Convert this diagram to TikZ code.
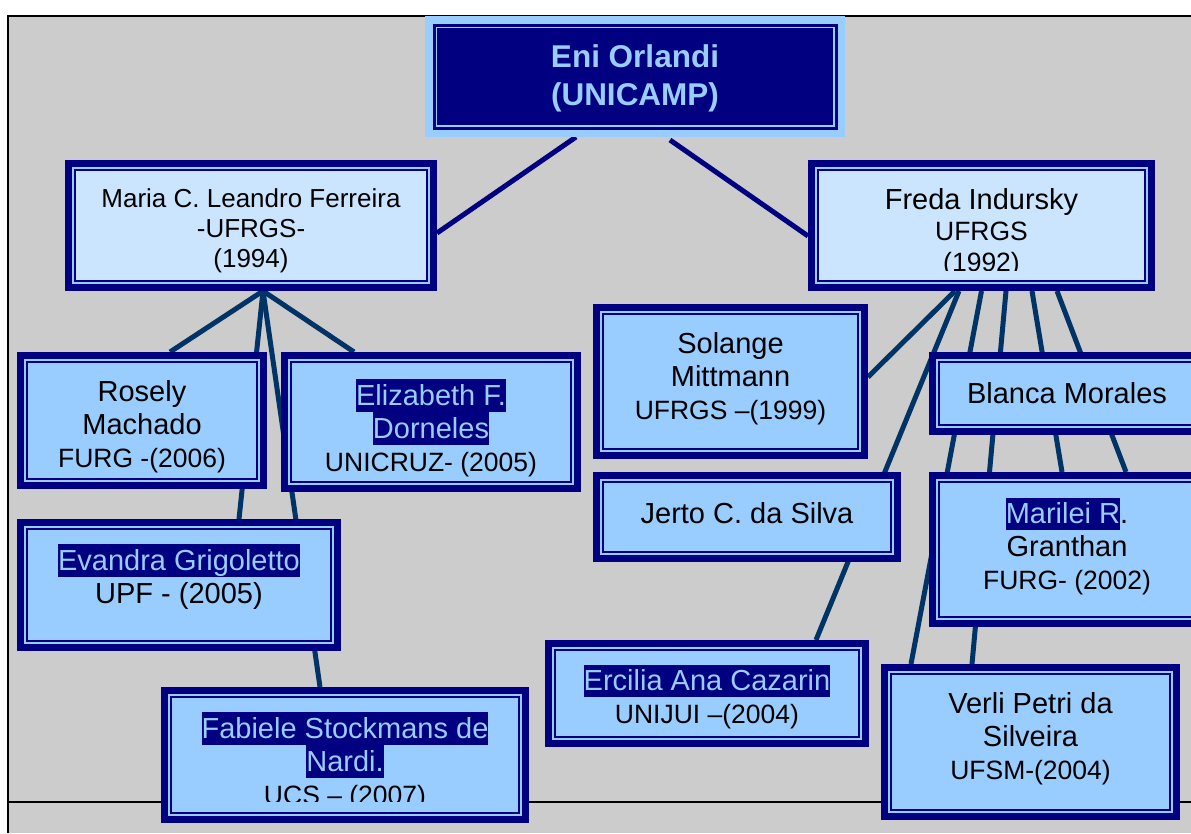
\documentclass[tikz,border=0pt]{standalone}
\usepackage{fontspec}
\setmainfont{Liberation Sans}
\usetikzlibrary{backgrounds}
\definecolor{orlnavy}{HTML}{000080}
\definecolor{orlblue}{HTML}{99CCFF}
\definecolor{orlpale}{HTML}{CCE5FF}
\definecolor{orlgray}{HTML}{CCCCCC}
\definecolor{orlline}{HTML}{003366}
\newcommand{\marca}[1]{{\fboxsep=0pt\colorbox{orlnavy}{\color{orlblue}\rule[-0.22em]{0pt}{1.12em}#1}}}
\newcommand{\inst}[1]{{\fontsize{26.5}{33}\selectfont #1}}
\begin{document}
\begin{tikzpicture}[x=1pt,y=-1pt,
    kid/.style={draw=orlnavy, line width=7pt, fill=orlblue, inner sep=0pt,
      path picture={\draw[orlnavy, line width=2pt]
        ([shift={(6.5pt,-6.5pt)}]path picture bounding box.north west) rectangle
        ([shift={(-6.5pt,6.5pt)}]path picture bounding box.south east);}},
    parent/.style={draw=orlnavy, line width=7pt, fill=orlblue, inner sep=0pt,
      path picture={\filldraw[fill=orlpale, draw=orlnavy, line width=2pt]
        ([shift={(6.5pt,-6.5pt)}]path picture bounding box.north west) rectangle
        ([shift={(-6.5pt,6.5pt)}]path picture bounding box.south east);}},
    topbox/.style={draw=orlblue, line width=7.5pt, fill=orlnavy, inner sep=0pt,
      path picture={\draw[orlblue, line width=1.5pt]
        ([shift={(7.5pt,-7.5pt)}]path picture bounding box.north west) rectangle
        ([shift={(-7.5pt,7.5pt)}]path picture bounding box.south east);}},
    txt/.style={align=center, inner sep=0pt, font=\fontsize{29}{33}\selectfont},
    link/.style={draw=orlline, line width=5pt},
    toplink/.style={draw=orlnavy, line width=5pt}]
  \useasboundingbox (0,0) rectangle (1191,833);
  \clip (0,0) rectangle (1191,833);

  \node[topbox, minimum width=412.5pt, minimum height=113.5pt] (eni) at (635,76.5) {};
  \node[parent, minimum width=365pt, minimum height=124pt] (maria) at (251,225.5) {};
  \node[parent, minimum width=340pt, minimum height=124pt] (freda) at (981.5,225.5) {};
  \node[kid, minimum width=243pt, minimum height=130pt] (rosely) at (142,420.5) {};
  \node[kid, minimum width=293pt, minimum height=133pt] (elizabeth) at (431,422) {};
  \node[kid, minimum width=317pt, minimum height=125pt] (evandra) at (179,585) {};
  \node[kid, minimum width=361pt, minimum height=129pt] (fabiele) at (345,755) {};
  \node[kid, minimum width=268pt, minimum height=148pt] (solange) at (730.5,381.5) {};
  \node[kid, minimum width=301pt, minimum height=83pt] (jerto) at (747,517) {};
  \node[kid, minimum width=317pt, minimum height=100pt] (ercilia) at (707,693.5) {};
  \node[kid, minimum width=269pt, minimum height=76pt] (blanca) at (1067,393.5) {};
  \node[kid, minimum width=269pt, minimum height=148pt] (marilei) at (1067,549.5) {};
  \node[kid, minimum width=292pt, minimum height=149pt] (verli) at (1030.5,742) {};

  \node[txt, text=orlblue, font=\bfseries\fontsize{31.5}{38}\selectfont] (enitx) at (635,78) {Eni Orlandi\\(UNICAMP)};
  \node[txt, font=\fontsize{26}{30}\selectfont] (mariatx) at (251,231) {Maria C. Leandro Ferreira\\-UFRGS-\\(1994)};
  \begin{scope}
    \clip (808,160) rectangle (1155,270);
    \node[txt, font=\fontsize{29}{31}\selectfont] (fredatx) at (981.5,233) {Freda Indursky\\\inst{UFRGS}\\\inst{(1992)}};
  \end{scope}
  \node[txt] (roselytx) at (142,427) {Rosely\\Machado\\\inst{FURG -(2006)}};
  \node[txt] (elizabethtx) at (431,428) {\marca{Elizabeth F.}\\\marca{Dorneles}\\\inst{UNICRUZ- (2005)}};
  \node[txt] (evandratx) at (179,577) {\marca{Evandra Grigoletto}\\UPF - (2005)};
  \begin{scope}
    \clip (161,687) rectangle (529,801);
    \node[txt] (fabieletx) at (345,761) {\marca{Fabiele Stockmans de}\\\marca{Nardi.}\\\inst{UCS – (2007)}};
  \end{scope}
  \node[txt] (solangetx) at (730.5,379) {Solange\\Mittmann\\\inst{UFRGS –(1999)}};
  \node[txt] (jertotx) at (747,513) {Jerto C. da Silva};
  \node[txt] (erciliatx) at (707,697) {\marca{Ercilia Ana Cazarin}\\\inst{UNIJUI –(2004)}};
  \node[txt] (blancatx) at (1067,393) {Blanca Morales};
  \node[txt] (mariteitx) at (1067,546.5) {\marca{Marilei R}.\\Granthan\\\inst{FURG- (2002)}};
  \node[txt] (verlitx) at (1030.5,738.5) {Verli Petri da\\Silveira\\\inst{UFSM-(2004)}};

  \begin{scope}[on background layer]
    \fill[orlgray] (9,17) rectangle (1191,833);
    \draw[line width=2pt] (8,833) -- (8,16) -- (1191,16);
    \draw[line width=2pt] (8,802) -- (1191,802);
    \draw[toplink] ([xshift=-59pt]eni.south) -- ([yshift=-7.5pt]maria.east);
    \draw[toplink] ([xshift=35pt,yshift=-3pt]eni.south) -- ([yshift=-10.5pt]freda.west);
    \draw[link] ([xshift=12pt]maria.south) -- ([xshift=28pt]rosely.north);
    \draw[link] ([xshift=12pt]maria.south) -- ([xshift=-77pt]elizabeth.north);
    \draw[link] ([xshift=12pt]maria.south) -- ([xshift=60pt]evandra.north);
    \draw[link] ([xshift=12pt]maria.south) -- ([xshift=-25pt]fabiele.north);
    \draw[link] ([xshift=-26.5pt]freda.south) -- ([yshift=4.5pt]solange.east);
    \draw[link] ([xshift=-22.5pt]freda.south) -- ([xshift=109pt]ercilia.north);
    \draw[link] ([xshift=0pt]freda.south) -- ([xshift=-119.5pt]verli.north);
    \draw[link] ([xshift=24.5pt]freda.south) -- ([xshift=-58.5pt]verli.north);
    \draw[link] ([xshift=50.5pt]freda.south) -- ([xshift=-5pt]marilei.north);
    \draw[link] ([xshift=75.5pt]freda.south) -- ([xshift=59pt]marilei.north);
  \end{scope}
\end{tikzpicture}
\end{document}
